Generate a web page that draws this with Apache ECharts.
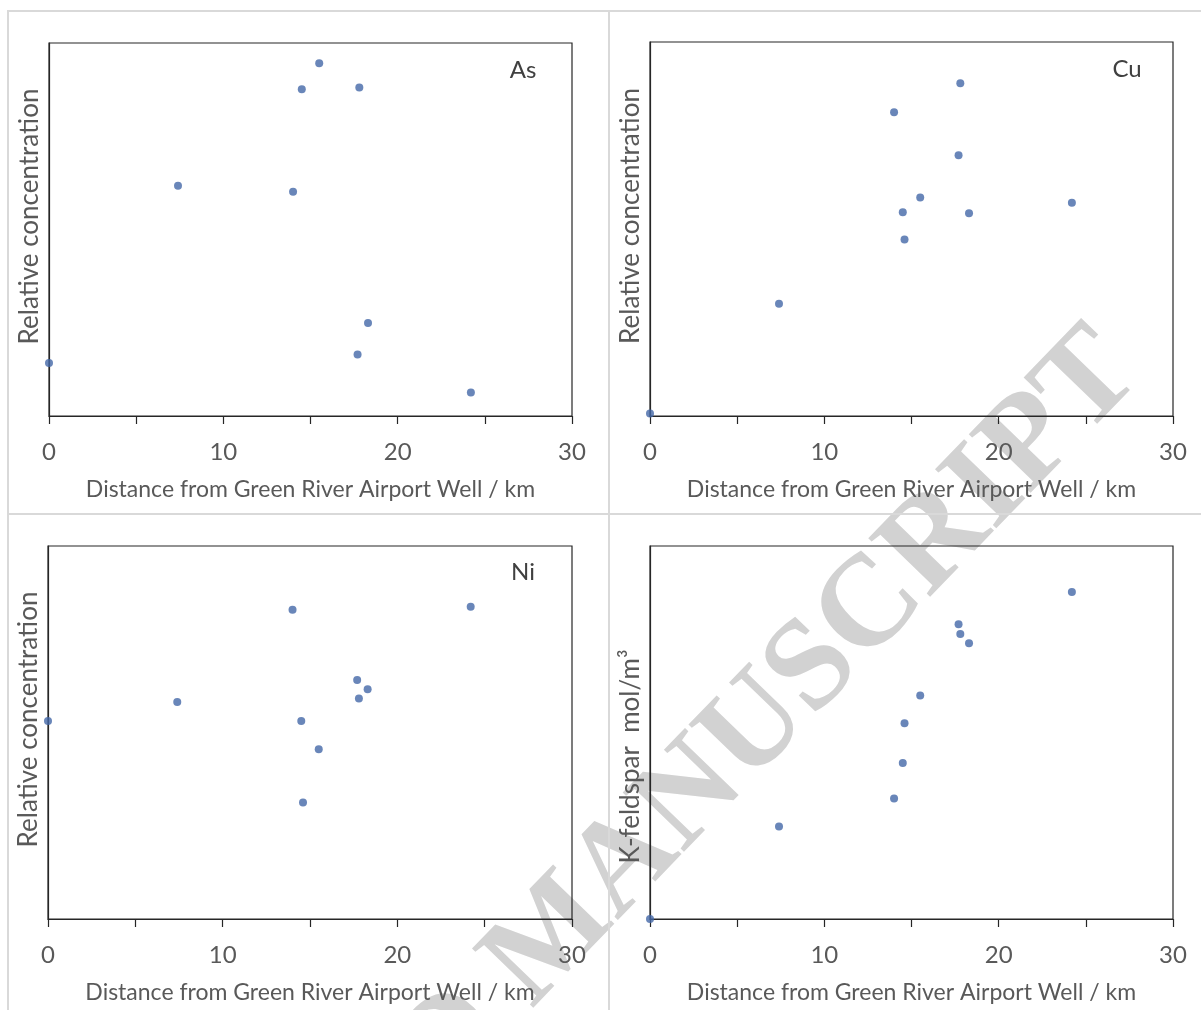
<!DOCTYPE html>
<html>
<head>
<meta charset="utf-8">
<script src="https://cdn.jsdelivr.net/npm/echarts@6/dist/echarts.min.js"></script>
<style>
html,body{margin:0;padding:0;background:#fff;}
#chart{width:1201px;height:1010px;}
</style>
</head>
<body>
<div id="chart"></div>
<script>
// Distance from Green River Airport Well (km), shared by all panels
const distance = [0, 7.4, 14.0, 14.5, 14.6, 15.5, 17.7, 17.8, 18.3, 24.2];
// Relative values (0-100 of each panel's y range)
const asValues = [14.2, 61.7, 60.1, 87.6, null, 94.6, 16.5, 88.1, 24.9, 6.3];
const cuValues = [0.7, 30.0, 81.2, 54.5, 47.2, 58.4, 69.7, 89.0, 54.2, 57.0];
const niValues = [53.1, 58.2, 82.9, 53.1, 31.2, 45.5, 64.1, 59.1, 61.6, 83.7];
const kfsValues = [0, 24.8, 32.3, 41.8, 52.5, 59.9, 79.0, 76.4, 73.9, 87.7];

const panelLabels = ['As', 'Cu', 'Ni', ''];
const yTitles = ['Relative concentration', 'Relative concentration', 'Relative concentration', 'K-feldspar  mol/m\u00B3'];
const xTitle = 'Distance from Green River Airport Well / km';
const xTicks = [0, 10, 20, 30];
const watermark = 'ACCEPTED MANUSCRIPT';

const panels = [asValues, cuValues, niValues, kfsValues];
const grids = [
  {left: 49, top: 43, width: 523, height: 373},
  {left: 650, top: 42, width: 523, height: 374},
  {left: 48, top: 546, width: 524, height: 373},
  {left: 650, top: 546, width: 523, height: 373}
];
const yNamePad = [26, 26, 26, -48];
const font = 'Lato, "Open Sans", sans-serif';

const chart = echarts.init(document.getElementById('chart'), null, {renderer: 'canvas'});

const xAxes = grids.map((g, i) => ({
  type: 'value', gridIndex: i, min: 0, max: 30, interval: 5,
  axisLine: {show: true, lineStyle: {color: '#262626', width: 1.2}},
  axisTick: {show: true, inside: false, length: 8, lineStyle: {color: '#262626', width: 1.2}},
  axisLabel: {
    margin: 24, fontFamily: font, fontSize: 24, color: '#595959',
    formatter: v => (xTicks.indexOf(v) >= 0 ? String(v) : '')
  },
  splitLine: {show: false},
  name: xTitle, nameLocation: 'middle', nameGap: 62,
  nameTextStyle: {fontFamily: font, fontSize: 23, color: '#595959'}
}));
const yAxes = grids.map((g, i) => ({
  type: 'value', gridIndex: i, min: 0, max: 100,
  axisLine: {show: true, lineStyle: {color: '#262626', width: 1.2}},
  axisTick: {show: false}, axisLabel: {show: false}, splitLine: {show: false},
  name: yTitles[i], nameLocation: 'middle', nameGap: 6,
  nameTextStyle: {fontFamily: font, fontSize: 26, color: '#595959', padding: yNamePad[i] >= 0 ? [0, 0, 0, yNamePad[i]] : [0, -yNamePad[i], 0, 0]}
}));

const series = panels.map((vals, i) => ({
  type: 'scatter', xAxisIndex: i, yAxisIndex: i,
  symbol: 'circle', symbolSize: 8, clip: false,
  itemStyle: {color: '#4468A8'},
  data: distance.map((d, k) => vals[k] == null ? null : [d, vals[k]]).filter(p => p)
}));

const labelPos = [[523, 70], [1127, 69], [523, 572], [1127, 572]];
const graphic = [
  {type: 'text', z: -5, x: 554, y: 938, rotation: 46 * Math.PI / 180,
   style: {text: watermark, font: 'bold 130px "Liberation Serif", "Times New Roman", serif', fill: '#d2d2d2', align: 'center', verticalAlign: 'middle'}},
  {type: 'rect', z: -4, shape: {x: 8, y: 11, width: 601, height: 503}, style: {fill: 'none', stroke: '#d9d9d9', lineWidth: 2}},
  {type: 'rect', z: -4, shape: {x: 609, y: 11, width: 600, height: 503}, style: {fill: 'none', stroke: '#d9d9d9', lineWidth: 2}},
  {type: 'rect', z: -4, shape: {x: 8, y: 514, width: 601, height: 510}, style: {fill: 'none', stroke: '#d9d9d9', lineWidth: 2}},
  {type: 'rect', z: -4, shape: {x: 609, y: 514, width: 600, height: 510}, style: {fill: 'none', stroke: '#d9d9d9', lineWidth: 2}}
];
panelLabels.forEach((t, i) => {
  if (!t) return;
  graphic.push({type: 'text', z: 10, x: labelPos[i][0], y: labelPos[i][1],
    style: {text: t, font: '24px ' + font, fill: '#404040', align: 'center', verticalAlign: 'middle'}});
});

chart.setOption({
  backgroundColor: '#ffffff',
  animation: false,
  grid: grids.map(g => Object.assign({show: true, borderColor: '#262626', borderWidth: 1.2, backgroundColor: 'transparent'}, g)),
  xAxis: xAxes,
  yAxis: yAxes,
  series: series,
  graphic: graphic
});
</script>
</body>
</html>
